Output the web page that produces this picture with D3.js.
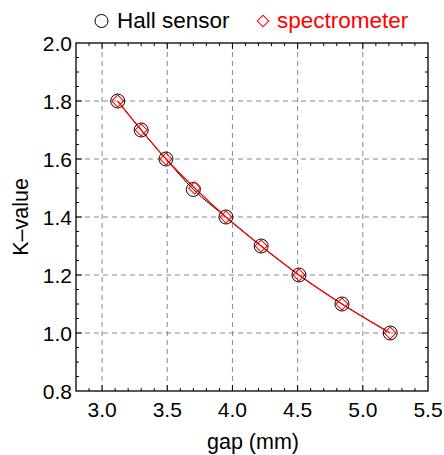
<!DOCTYPE html>
<html>
<head>
<script src="https://d3js.org/d3.v7.min.js"></script>
<style>
  body { margin: 0; background: #fff; }
  text { font-family: "Liberation Sans", Arial, sans-serif; }
</style>
</head>
<body>
<div id="chart"></div>
<script>
// measured points
var gapHall = [3.12, 3.30, 3.49, 3.70, 3.95, 4.22, 4.51, 4.84, 5.21];
var kHall   = [1.80, 1.70, 1.60, 1.495, 1.40, 1.30, 1.20, 1.10, 1.00];
var gapSpec = [3.12, 3.30, 3.49, 3.71, 3.95, 4.22, 4.51, 4.84, 5.21];
var kSpec   = [1.80, 1.70, 1.60, 1.50, 1.40, 1.30, 1.20, 1.10, 1.00];
var xTicks = [3.0, 3.5, 4.0, 4.5, 5.0, 5.5];
var yTicks = [0.8, 1.0, 1.2, 1.4, 1.6, 1.8, 2.0];

var W = 444, H = 455;
var margin = {top: 43, right: 16, bottom: 64, left: 76};
var width = W - margin.left - margin.right,
    height = H - margin.top - margin.bottom;

var svg = d3.select("#chart").append("svg")
    .attr("width", W).attr("height", H);
var g = svg.append("g")
    .attr("transform", "translate(" + margin.left + "," + margin.top + ")");

var x = d3.scaleLinear().domain([2.8, 5.5]).range([0, width]);
var y = d3.scaleLinear().domain([0.8, 2.0]).range([height, 0]);

// grid
g.selectAll(".gx").data(xTicks.filter(function (d) { return d < 5.5; }))
  .enter().append("line")
    .attr("x1", function (d) { return x(d); }).attr("x2", function (d) { return x(d); })
    .attr("y1", 0).attr("y2", height)
    .attr("stroke", "#888").attr("stroke-dasharray", "5,4");
g.selectAll(".gy").data(yTicks.filter(function (d) { return d > 0.8 && d < 2.0; }))
  .enter().append("line")
    .attr("y1", function (d) { return y(d); }).attr("y2", function (d) { return y(d); })
    .attr("x1", 0).attr("x2", width)
    .attr("stroke", "#888").attr("stroke-dasharray", "5,4");

// inward ticks on all four sides
var xMinor = d3.range(29, 55).map(function (d) { return d / 10; });
var yMinor = d3.range(17, 40).map(function (d) { return d / 20; });

function ticksX(sel, yPos, dir) {
  sel.selectAll(null).data(xMinor).enter().append("line")
    .attr("x1", function (d) { return x(d); }).attr("x2", function (d) { return x(d); })
    .attr("y1", yPos).attr("y2", function (d) {
      var major = Math.abs(d * 2 - Math.round(d * 2)) < 1e-6;
      return yPos + dir * (major ? 6 : 3);
    })
    .attr("stroke", "#000");
}
function ticksY(sel, xPos, dir) {
  sel.selectAll(null).data(yMinor).enter().append("line")
    .attr("y1", function (d) { return y(d); }).attr("y2", function (d) { return y(d); })
    .attr("x1", xPos).attr("x2", function (d) {
      var major = Math.abs(d * 5 - Math.round(d * 5)) < 1e-6;
      return xPos + dir * (major ? 6 : 3);
    })
    .attr("stroke", "#000");
}
ticksX(g, height, -1);
ticksX(g, 0, 1);
ticksY(g, 0, 1);
ticksY(g, width, -1);

g.append("rect").attr("width", width).attr("height", height)
  .attr("fill", "none").attr("stroke", "#000").attr("stroke-width", 1.3);

g.selectAll(".xl").data(xTicks).enter().append("text")
  .attr("x", function (d) { return x(d); }).attr("y", height + 26)
  .attr("text-anchor", "middle").attr("font-size", 21)
  .text(function (d) { return d.toFixed(1); });
g.selectAll(".yl").data(yTicks).enter().append("text")
  .attr("x", -4).attr("y", function (d) { return y(d) + 7.5; })
  .attr("text-anchor", "end").attr("font-size", 21)
  .text(function (d) { return d.toFixed(1); });

svg.append("text").attr("x", margin.left + width / 2 + 1).attr("y", 449)
  .attr("text-anchor", "middle").attr("font-size", 21.5).text("gap (mm)");
svg.append("text").attr("transform", "translate(28," + (margin.top + height / 2) + ") rotate(-90)")
  .attr("text-anchor", "middle").attr("font-size", 21.5).text("K\u2013value");

// curves
var hall = gapHall.map(function (d, i) { return [d, kHall[i]]; });
var spec = gapSpec.map(function (d, i) { return [d, kSpec[i]]; });
var line = d3.line().x(function (d) { return x(d[0]); }).y(function (d) { return y(d[1]); })
  .curve(d3.curveMonotoneX);

g.append("path").datum(hall).attr("d", line)
  .attr("fill", "none").attr("stroke", "#000").attr("stroke-width", 1);
g.append("path").datum(spec).attr("d", line)
  .attr("fill", "none").attr("stroke", "#f00").attr("stroke-width", 1.2);

var diamond = d3.symbol().type(d3.symbolSquare).size(72);
g.selectAll(".hc").data(hall).enter().append("circle")
  .attr("cx", function (d) { return x(d[0]); }).attr("cy", function (d) { return y(d[1]); })
  .attr("r", 7).attr("fill", "none").attr("stroke", "#000").attr("stroke-width", 1);
g.selectAll(".sd").data(spec).enter().append("path")
  .attr("d", diamond)
  .attr("transform", function (d) { return "translate(" + x(d[0]) + "," + y(d[1]) + ") rotate(45)"; })
  .attr("fill", "none").attr("stroke", "#f00").attr("stroke-width", 1);

// legend
svg.append("circle").attr("cx", 101.5).attr("cy", 21).attr("r", 6.5)
  .attr("fill", "none").attr("stroke", "#000");
svg.append("text").attr("x", 117).attr("y", 28).attr("font-size", 22.5).text("Hall sensor");
svg.append("path").attr("d", d3.symbol().type(d3.symbolSquare).size(66))
  .attr("transform", "translate(263,21) rotate(45)")
  .attr("fill", "none").attr("stroke", "#f00");
svg.append("text").attr("x", 277).attr("y", 28).attr("font-size", 22.5)
  .attr("fill", "#f00").text("spectrometer");
</script>
</body>
</html>
